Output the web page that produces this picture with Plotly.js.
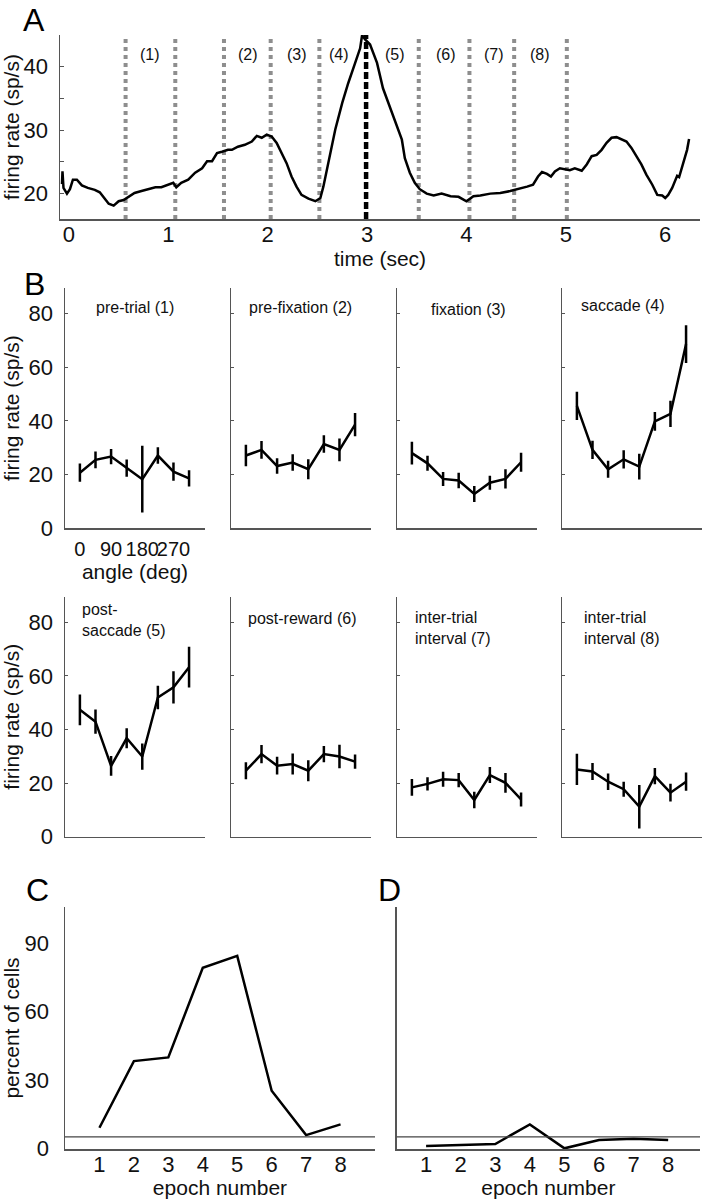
<!DOCTYPE html>
<html>
<head>
<meta charset="utf-8">
<script src="https://cdn.plot.ly/plotly-3.0.1.min.js"></script>
<style>html,body{margin:0;padding:0;background:#fff;}#chart{width:703px;height:1199px;}</style>
</head>
<body>
<div id="chart"></div>
<script>
// ---------- Panel A: population firing rate over time ----------
const timeSec = [-0.07,-0.065,-0.055,-0.02,0.01,0.04,0.08,0.13,0.19,0.26,0.31,0.36,0.40,0.45,0.50,0.55,0.60,0.66,0.73,0.80,0.87,0.93,1.00,1.05,1.08,1.13,1.20,1.27,1.34,1.39,1.44,1.49,1.54,1.60,1.64,1.70,1.77,1.84,1.89,1.94,1.99,2.04,2.09,2.14,2.19,2.24,2.29,2.34,2.41,2.48,2.53,2.56,2.61,2.68,2.75,2.81,2.88,2.93,2.95,2.98,3.03,3.10,3.16,3.23,3.30,3.35,3.38,3.43,3.48,3.53,3.60,3.67,3.75,3.84,3.92,4.00,4.07,4.14,4.24,4.34,4.44,4.52,4.61,4.67,4.72,4.76,4.81,4.85,4.89,4.94,4.99,5.04,5.09,5.16,5.21,5.26,5.31,5.36,5.41,5.46,5.51,5.56,5.61,5.66,5.71,5.76,5.81,5.87,5.92,5.97,6.00,6.03,6.07,6.12,6.14,6.18,6.22,6.24];
const rateA = [21.5,23.5,20.9,20.0,20.7,22.2,22.2,21.3,20.9,20.6,20.2,19.3,18.4,18.1,18.8,19.0,19.5,20.1,20.4,20.7,21.0,21.0,21.4,21.7,21.0,21.7,22.2,23.3,24.0,25.1,25.1,26.4,26.6,26.9,26.9,27.4,27.7,28.2,29.1,28.8,29.3,29.0,28.0,26.4,24.8,22.7,21.1,19.8,19.2,18.8,19.3,21.1,24.8,30.1,34.3,37.4,40.6,42.9,45.0,44.3,43.5,40.6,36.6,33.5,30.6,28.5,25.6,23.3,21.7,20.7,20.0,19.7,20.0,19.6,19.5,18.8,19.6,19.7,20.0,20.1,20.4,20.7,21.1,21.4,22.7,23.4,23.1,22.7,23.5,24.0,23.9,23.7,24.0,23.6,24.6,25.9,26.1,26.9,28.0,28.8,28.9,28.6,28.2,27.2,25.9,24.6,23.0,21.4,19.8,19.7,19.3,19.8,20.9,22.8,22.6,24.8,26.9,28.6];
const epochBounds = [0.57, 1.07, 1.56, 2.03, 2.52, 3.52, 4.03, 4.48, 5.01];
const saccadeTime = 2.99;
const epochLabelTime = [0.82, 1.80, 2.29, 2.72, 3.28, 3.79, 4.28, 4.74];
const epochLabelText = ['(1)','(2)','(3)','(4)','(5)','(6)','(7)','(8)'];
const epochLabelRate = 41.9;
const timeTicks = [0,1,2,3,4,5,6];
const rateTicksA = [20,25,30,35,40,45];
const rateTickTextA = ['20','','30','','40',''];

// ---------- Panel B: tuning curves per epoch ----------
const anglesDeg = [0,45,90,135,180,225,270,315];
const angleTicks = [0,90,180,270];
const epochTitles = ['pre-trial (1)','pre-fixation (2)','fixation (3)','saccade (4)',
                     'post-<br>saccade (5)','post-reward (6)','inter-trial<br>interval (7)','inter-trial<br>interval (8)'];
const rateEpoch1 = [20.7,25.5,26.7,22.4,18.3,27.1,21.1,18.6];
const semEpoch1  = [3.4,3.1,2.8,3.2,12.4,3.1,3.4,3.0];
const rateEpoch2 = [27.1,29.2,23.2,24.5,22.0,31.4,29.2,38.6];
const semEpoch2  = [4.0,3.3,2.9,3.1,3.7,3.3,4.2,4.3];
const rateEpoch3 = [28.0,24.2,18.4,17.8,12.8,17.0,18.4,24.6];
const semEpoch3  = [4.2,2.8,2.6,2.9,3.0,2.6,3.6,3.5];
const rateEpoch4 = [45.6,29.2,22.0,25.7,23.0,39.8,42.6,68.6];
const semEpoch4  = [5.3,3.4,3.2,3.4,4.8,3.5,4.9,7.0];
const rateEpoch5 = [47.3,42.9,26.4,36.7,29.9,51.9,55.7,63.2];
const semEpoch5  = [5.7,4.5,3.7,3.7,4.9,4.4,6.0,7.6];
const rateEpoch6 = [24.6,30.8,26.5,27.1,24.6,30.8,29.9,28.0];
const semEpoch6  = [3.2,3.4,3.3,3.9,3.9,3.0,4.4,2.7];
const rateEpoch7 = [18.4,19.7,21.4,21.1,13.7,23.0,20.1,13.9];
const semEpoch7  = [3.1,2.5,2.8,2.7,3.1,3.0,3.7,2.6];
const rateEpoch8 = [25.1,24.3,20.5,17.7,11.2,22.6,16.4,20.5];
const semEpoch8  = [5.8,3.2,3.1,2.8,8.1,3.0,3.3,3.4];
const rateTicksB = [0,20,40,60,80];

// ---------- Panels C and D: percent of cells per epoch ----------
const epochNumbers = [1,2,3,4,5,6,7,8];
const pctCellsC = [9.0,38.3,39.9,79.3,84.5,25.3,5.8,10.5];
const pctCellsD = [1.0,1.45,1.9,10.5,0.0,3.6,4.2,3.6];
const chanceLevel = 5;
const pctTicks = [0,30,60,90];

// ---------- layout helpers ----------
const W = 703, H = 1199;
const FONT = 'Liberation Sans, Arial, Helvetica, sans-serif';
const AXC = '#555';
const dx = (a,b) => [a/W, b/W];
const dy = (top,bottom) => [1-bottom/H, 1-top/H];
const tickFont = {family: FONT, size: 22, color: '#111'};
const titleFont = {family: FONT, size: 21, color: '#111'};

const data = [];
const layout = {
  width: W, height: H,
  margin: {l:0, r:0, t:0, b:0},
  paper_bgcolor: '#fff', plot_bgcolor: 'rgba(0,0,0,0)',
  showlegend: false,
  font: {family: FONT, color: '#111'},
  shapes: [], annotations: []
};

// Panel A
data.push({x: timeSec, y: rateA, xaxis:'x', yaxis:'y', type:'scatter', mode:'lines',
           line:{color:'#000', width:2.5}, hoverinfo:'skip'});
layout.xaxis = {domain: dx(60,700), range:[-0.09,6.35], anchor:'y', showline:true, linecolor:AXC, linewidth:1.5,
  tickvals: timeTicks, ticks:'', showgrid:false, zeroline:false, tickfont: tickFont, tickangle:0, ticklabelstandoff: -5,
  title:{text:'time (sec)', font:titleFont, standoff: 0}};
layout.yaxis = {domain: dy(35,219), range:[16,45], anchor:'x', showline:true, linecolor:AXC, linewidth:1.5,
  tickvals: rateTicksA, ticktext: rateTickTextA, ticks:'inside', ticklen:4, tickcolor:AXC, showgrid:false, zeroline:false,
  tickfont: tickFont, ticklabelstandoff: 6, title:{text:'firing rate (sp/s)', font:titleFont, standoff: 2}};
epochBounds.forEach(b => layout.shapes.push({type:'line', xref:'x', yref:'y', x0:b, x1:b, y0:16, y1:45,
  line:{color:'#8e8e8e', width:4, dash:'4px,4px'}, layer:'below'}));
layout.shapes.push({type:'line', xref:'x', yref:'y', x0:saccadeTime, x1:saccadeTime, y0:16, y1:45,
  line:{color:'#000', width:4.5, dash:'7px,3px'}, layer:'below'});
epochLabelTime.forEach((t,i) => layout.annotations.push({xref:'x', yref:'y', x:t, y:epochLabelRate,
  text: epochLabelText[i], showarrow:false, font:{family:FONT, size:16, color:'#111'}}));

// Panel B
const rates = [rateEpoch1,rateEpoch2,rateEpoch3,rateEpoch4,rateEpoch5,rateEpoch6,rateEpoch7,rateEpoch8];
const sems  = [semEpoch1,semEpoch2,semEpoch3,semEpoch4,semEpoch5,semEpoch6,semEpoch7,semEpoch8];
const colsPx = [[65,205],[231,371],[397,537],[562,702]];
const rowsPx = [[288,528.3],[596.7,836.7]];
const titlePos = [
  {x:135, y:307, xa:'center'}, {x:300, y:307, xa:'center'}, {x:468, y:309, xa:'center'}, {x:623, y:305, xa:'center'},
  {x:80, y:619.5, xa:'left'}, {x:302, y:618, xa:'center'}, {x:413, y:627.5, xa:'left'}, {x:582, y:627.5, xa:'left'}];
for (let k=0; k<8; k++) {
  const n = k+2, r = Math.floor(k/4), c = k%4;
  const xa = 'x'+n, ya = 'y'+n;
  data.push({x: anglesDeg, y: rates[k], xaxis: xa, yaxis: ya, type:'scatter', mode:'lines',
    line:{color:'#000', width:2.5}, hoverinfo:'skip',
    error_y:{type:'data', array: sems[k], visible:true, width:0, thickness:2.5, color:'#000'}});
  const xax = {domain: dx(colsPx[c][0], colsPx[c][1]), range:[-43,361], anchor: ya, showline:true, linecolor:AXC,
    linewidth:1.5, ticks:'', showgrid:false, zeroline:false, showticklabels:false};
  const yax = {domain: dy(rowsPx[r][0], rowsPx[r][1]), range:[0,89.5], anchor: xa, showline:true, linecolor:AXC,
    linewidth:1.5, tickvals: rateTicksB, ticks:'inside', ticklen:3, tickcolor:AXC, showgrid:false, zeroline:false,
    showticklabels: c===0, tickfont: tickFont, ticklabelstandoff: 6};
  if (k===0) {
    xax.showticklabels = true; xax.tickvals = angleTicks; xax.tickangle = 0; xax.ticklabelstandoff = 2;
    xax.tickfont = {family: FONT, size: 20, color: '#111'};
    xax.title = {text:'angle (deg)', font:titleFont, standoff: 2};
  }
  if (c===0) yax.title = {text:'firing rate (sp/s)', font:titleFont, standoff: 4};
  layout['xaxis'+n] = xax; layout['yaxis'+n] = yax;
  const tp = titlePos[k];
  layout.annotations.push({xref:'paper', yref:'paper', x: tp.x/W, y: 1-tp.y/H, xanchor: tp.xa, yanchor:'middle',
    align:'left', text: epochTitles[k], showarrow:false, font:{family:FONT, size:16, color:'#111'}});
}

// Panels C & D
data.push({x: epochNumbers, y: pctCellsC, xaxis:'x10', yaxis:'y10', type:'scatter', mode:'lines',
  line:{color:'#000', width:2.5}, hoverinfo:'skip'});
data.push({x: epochNumbers, y: pctCellsD, xaxis:'x11', yaxis:'y11', type:'scatter', mode:'lines',
  line:{color:'#000', width:2.5}, hoverinfo:'skip'});
layout.xaxis10 = {domain: dx(65,375), range:[0,9], anchor:'y10', showline:true, linecolor:AXC, linewidth:1.5,
  tickvals: epochNumbers, ticks:'', showgrid:false, zeroline:false, tickfont: tickFont, tickangle:0, ticklabelstandoff: -5,
  title:{text:'epoch number', font:titleFont, standoff: 1}};
layout.yaxis10 = {domain: dy(906.7,1149.3), range:[-0.44,106.1], anchor:'x10', showline:true, linecolor:AXC, linewidth:1.5,
  tickvals: pctTicks, ticks:'', showgrid:false, zeroline:false, tickfont: tickFont, ticklabelstandoff: 10,
  title:{text:'percent of cells', font:titleFont, standoff: 1}};
layout.xaxis11 = {domain: dx(396.7,700), range:[0.15,8.92], anchor:'y11', showline:true, linecolor:AXC, linewidth:1.5,
  tickvals: epochNumbers, ticks:'', showgrid:false, zeroline:false, tickfont: tickFont, tickangle:0, ticklabelstandoff: -5,
  title:{text:'epoch number', font:titleFont, standoff: 1}};
layout.yaxis11 = {domain: dy(906.7,1149.3), range:[-0.44,106.1], anchor:'x11', showline:true, linecolor:AXC, linewidth:1.5,
  ticks:'', showticklabels:false, showgrid:false, zeroline:false};
['x10','x11'].forEach((xa,i) => layout.shapes.push({type:'line', xref: xa+' domain', yref: (i===0?'y10':'y11'),
  x0:0, x1:1, y0: chanceLevel, y1: chanceLevel, line:{color:'#444', width:1.3}}));

// Panel letters
[['A',34,0],['B',34,264],['C',37,870],['D',389,870]].forEach(p => layout.annotations.push({
  xref:'paper', yref:'paper', x:p[1]/W, y:1-p[2]/H, xanchor:'center', yanchor:'top', showarrow:false,
  text:p[0], font:{family:FONT, size:32, color:'#000'}}));

Plotly.newPlot('chart', data, layout, {staticPlot:true, displayModeBar:false});
</script>
</body>
</html>
